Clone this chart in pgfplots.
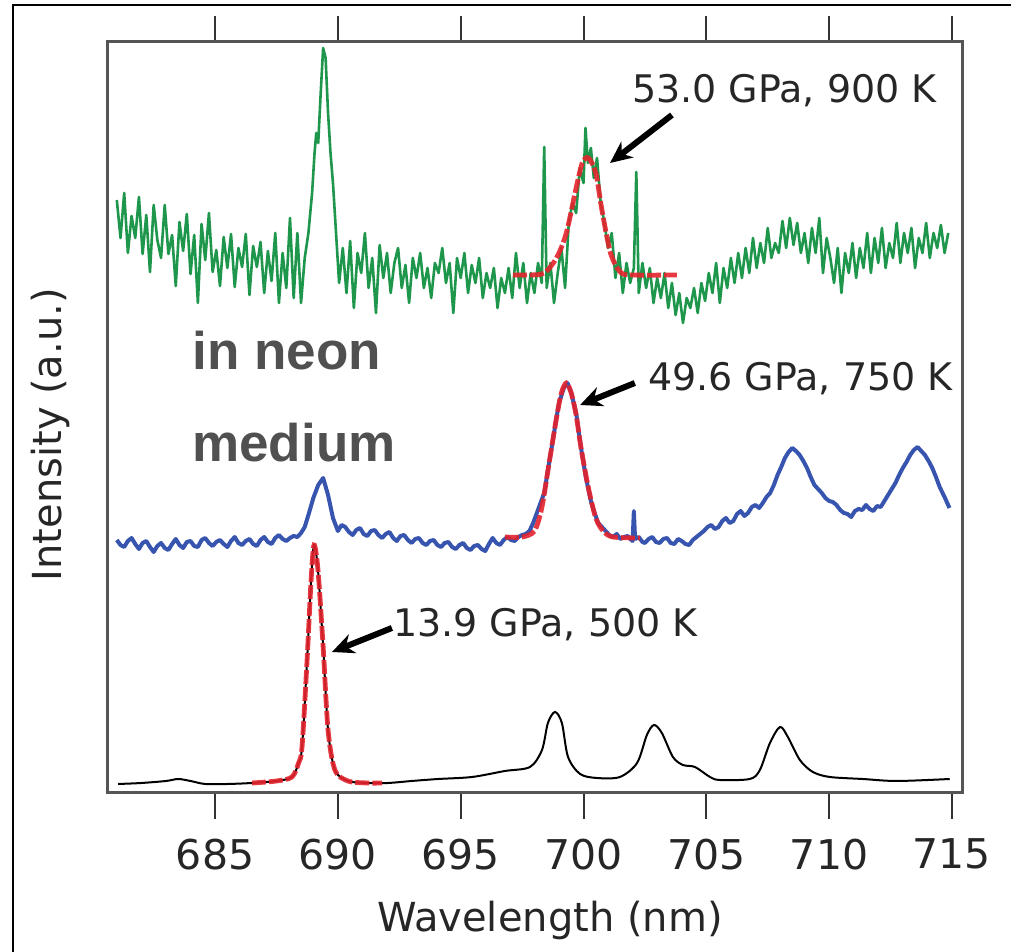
\documentclass[border=0pt]{standalone}
\usepackage{pgfplots}
\pgfplotsset{compat=1.18}
\usepackage{fontspec}
\setmainfont{DejaVu Sans}
\newfontfamily\arialbold{Liberation Sans}[BoldFont={* Bold}]
\usetikzlibrary{arrows.meta}
\definecolor{sgreen}{RGB}{30,150,75}
\definecolor{sblue}{RGB}{55,85,175}
\definecolor{sred}{RGB}{228,35,45}
\definecolor{sgray}{RGB}{80,80,80}
\definecolor{boxgray}{RGB}{85,85,85}
\begin{document}
\begin{tikzpicture}
\path[use as bounding box] (0,0) rectangle (505.5pt,476pt);
\draw[line width=0.9pt, black] (6.65pt,-2pt) -- (6.65pt,473.5pt) -- (510pt,473.5pt);
\begin{axis}[
  at={(53.5pt,79.5pt)}, anchor=south west,
  scale only axis, width=427.5pt, height=375.5pt,
  xmin=680.6, xmax=715.41, ymin=0, ymax=751,
  clip=false,
  axis line style={boxgray, line width=1.5pt},
  xtick={685,690,695,700,705,710,715},
  xtick pos=both, xticklabel pos=lower,
  ytick=\empty,
  tick align=outside,
  major tick length=13pt,
  every tick/.style={black!80, line width=1pt},
  /pgf/number format/assume math mode=true,
  xticklabel style={font=\fontsize{20.5pt}{24pt}\selectfont, text=black!85, yshift=-6.5pt},
  xlabel={Wavelength (nm)},
  ylabel={Intensity (a.u.)},
  xlabel style={font=\fontsize{20pt}{24pt}\selectfont, text=black!85, at={(axis description cs:0.518,-0.185)}, anchor=base},
  ylabel style={font=\fontsize{20pt}{24pt}\selectfont, text=black!85, at={(axis description cs:-0.0667,0.477)}, anchor=center},
]
% black spectrum 13.9 GPa
\addplot[black, line width=1pt, smooth, tension=0.5] coordinates {
(681.05,9) (682.0,10) (683.0,12) (683.5,14) (684.0,12) (684.6,9) (685.5,9) (686.5,10) (687.5,12) (688.13,16) (688.4,30) (688.54,46) (688.74,130) (688.91,213) (689.03,248) (689.19,223) (689.40,146) (689.60,63) (689.88,23) (690.41,12) (691.2,10) (692.04,10) (693.0,12) (694.08,14) (695.46,16) (696.80,22) (697.82,26) (698.31,43) (698.55,70) (698.84,81) (699.12,70) (699.37,36) (699.86,19) (700.55,15) (701.48,16) (702.18,30) (702.58,58) (702.87,68) (703.19,60) (703.64,36) (704.05,28) (704.54,26) (705.15,16) (705.55,13) (706.77,14) (707.18,23) (707.59,50) (708.00,66) (708.32,56) (708.81,33) (709.34,21) (710.03,16) (711.37,14) (712.76,12) (714.91,14)
};
% red fit on black
\addplot[sred, line width=2.4pt, smooth, tension=0.5, dash pattern=on 7pt off 1.5pt, opacity=0.9] coordinates {
(686.5,10) (687.5,12) (688.13,16) (688.4,30) (688.54,46) (688.74,130) (688.91,213) (689.03,248) (689.19,223) (689.40,146) (689.60,63) (689.88,23) (690.41,12) (691.2,10) (691.8,10)
};
% blue spectrum 49.6 GPa
\addplot[sblue, line width=2pt, line join=round] coordinates {
(681.0,253) (681.15,248) (681.3,246) (681.45,252) (681.6,255) (681.75,249) (681.9,244) (682.05,250) (682.2,252) (682.35,246) (682.5,241) (682.65,247) (682.8,250) (682.95,245) (683.1,243) (683.25,249) (683.4,254) (683.55,248) (683.7,245) (683.85,251) (684.0,252) (684.15,247) (684.3,246) (684.45,253) (684.6,255) (684.75,250) (684.9,247) (685.05,251) (685.2,253) (685.35,249) (685.5,246) (685.65,252) (685.8,256) (685.95,250) (686.1,248) (686.25,252) (686.4,254) (686.55,249) (686.7,247) (686.85,253) (687.0,256) (687.15,251) (687.3,249) (687.45,255) (687.6,258) (687.75,254) (687.9,252) (688.05,255) (688.2,257) (688.35,256) (688.5,260) (688.65,266) (688.8,278) (689.0,295) (689.2,308) (689.4,315) (689.6,298) (689.8,275) (690.0,262) (690.15,268) (690.3,266) (690.45,261) (690.6,258) (690.75,263) (690.9,265) (691.05,259) (691.2,257) (691.35,262) (691.5,263) (691.65,258) (691.8,255) (691.95,259) (692.1,261) (692.25,255) (692.4,252) (692.55,257) (692.7,258) (692.85,253) (693.0,250) (693.15,254) (693.3,255) (693.45,250) (693.6,248) (693.75,252) (693.9,253) (694.05,248) (694.2,246) (694.35,250) (694.5,251) (694.65,246) (694.8,244) (694.95,248) (695.1,250) (695.25,245) (695.4,243) (695.55,247) (695.7,248) (695.85,244) (696.0,242) (696.15,249) (696.3,255) (696.45,250) (696.6,248) (696.75,253) (696.9,256) (697.05,253) (697.2,252) (697.35,256) (697.5,258) (697.65,259) (697.8,262) (697.95,270) (698.1,280) (698.25,290) (698.4,300) (698.6,330) (698.8,360) (699.0,390) (699.2,405) (699.35,410) (699.5,400) (699.7,380) (699.9,345) (700.1,315) (700.3,292) (700.45,280) (700.6,270) (700.75,266) (700.9,262) (701.05,258) (701.2,256) (701.35,259) (701.5,254) (701.65,256) (701.8,257) (701.95,253) (702.0,252) (702.05,282) (702.1,254) (702.25,256) (702.4,251) (702.5,250) (702.65,254) (702.8,256) (702.95,251) (703.1,250) (703.25,254) (703.4,255) (703.55,250) (703.7,249) (703.85,254) (704.0,252) (704.15,249) (704.3,248) (704.45,253) (704.6,256) (704.75,259) (704.9,262) (705.05,266) (705.2,268) (705.35,264) (705.5,266) (705.65,272) (705.8,275) (705.95,270) (706.1,272) (706.25,279) (706.4,282) (706.55,277) (706.7,280) (706.85,286) (707.0,288) (707.15,285) (707.3,290) (707.45,296) (707.6,300) (707.75,308) (707.9,318) (708.05,326) (708.2,335) (708.35,341) (708.5,345) (708.65,342) (708.8,338) (708.95,332) (709.1,325) (709.25,316) (709.4,308) (709.55,304) (709.7,300) (709.85,295) (710.0,292) (710.15,291) (710.3,288) (710.45,283) (710.6,280) (710.75,279) (710.9,276) (711.05,282) (711.2,284) (711.35,283) (711.5,288) (711.65,284) (711.8,282) (711.95,287) (712.1,286) (712.25,292) (712.4,298) (712.55,304) (712.7,310) (712.85,318) (713.0,325) (713.15,331) (713.3,338) (713.45,343) (713.6,346) (713.75,342) (713.9,338) (714.05,332) (714.2,325) (714.35,316) (714.5,306) (714.7,296) (714.9,285)
};
% red fit on blue
\addplot[sred, line width=2.4pt, smooth, tension=0.5, dash pattern=on 7pt off 1.5pt, opacity=0.9] coordinates {
(696.8,256) (697.5,256) (698.0,262) (698.3,285) (698.6,330) (698.9,375) (699.1,400) (699.3,410) (699.5,400) (699.7,378) (699.9,345) (700.2,305) (700.5,275) (700.8,262) (701.2,256) (702.3,255)
};
% green spectrum 53.0 GPa
\addplot[sgreen, line width=1.3pt, line join=round] coordinates {
(681.00,593) (681.15,555) (681.30,600) (681.45,540) (681.60,577) (681.75,555) (681.90,596) (682.05,539) (682.20,578) (682.35,521) (682.50,588) (682.65,553) (682.80,535) (682.95,588) (683.10,539) (683.25,558) (683.40,507) (683.55,571) (683.70,542) (683.85,579) (684.00,519) (684.15,558) (684.30,490) (684.45,569) (684.60,533) (684.75,580) (684.90,521) (685.05,543) (685.20,507) (685.35,556) (685.50,525) (685.65,559) (685.80,506) (685.95,545) (686.10,526) (686.25,559) (686.40,498) (686.55,547) (686.70,526) (686.85,551) (687.00,500) (687.15,542) (687.30,512) (687.45,560) (687.60,490) (687.75,540) (687.90,505) (688.05,575) (688.20,495) (688.35,560) (688.50,490) (688.65,535) (688.80,560) (688.95,600) (689.05,640) (689.12,660) (689.20,650) (689.30,700) (689.40,745) (689.50,735) (689.60,680) (689.70,640) (689.80,610) (689.90,570) (690.05,510) (690.20,545) (690.35,500) (690.50,552) (690.65,485) (690.80,540) (690.95,520) (691.10,560) (691.25,505) (691.40,535) (691.55,480) (691.70,548) (691.85,515) (692.00,540) (692.15,500) (692.30,530) (692.45,545) (692.60,505) (692.75,528) (692.90,490) (693.05,535) (693.20,515) (693.35,540) (693.50,505) (693.65,525) (693.80,495) (693.95,530) (694.10,520) (694.25,545) (694.40,510) (694.55,530) (694.70,480) (694.85,535) (695.00,515) (695.15,540) (695.30,500) (695.45,528) (695.60,510) (695.75,535) (695.90,495) (696.05,520) (696.20,505) (696.35,525) (696.50,485) (696.65,515) (696.80,500) (696.95,525) (697.10,495) (697.25,540) (697.40,505) (697.55,530) (697.70,490) (697.85,520) (698.00,500) (698.15,530) (698.30,510) (698.40,646) (698.50,505) (698.65,530) (698.80,490) (698.95,520) (699.10,545) (699.25,505) (699.40,570) (699.55,590) (699.70,580) (699.85,625) (700.00,610) (700.08,665) (700.18,630) (700.30,645) (700.42,615) (700.55,635) (700.70,590) (700.85,570) (701.00,545) (701.15,560) (701.30,515) (701.45,540) (701.60,500) (701.75,530) (701.90,510) (702.05,525) (702.15,621) (702.25,500) (702.40,530) (702.55,505) (702.70,525) (702.85,490) (703.00,515) (703.15,495) (703.30,520) (703.45,485) (703.60,510) (703.75,478) (703.90,500) (704.05,470) (704.20,495) (704.35,485) (704.50,505) (704.65,480) (704.80,510) (704.95,492) (705.10,520) (705.25,500) (705.40,530) (705.55,490) (705.70,525) (705.85,505) (706.00,535) (706.15,510) (706.30,540) (706.45,515) (706.60,545) (706.75,520) (706.90,555) (707.05,525) (707.20,550) (707.35,530) (707.50,565) (707.65,535) (707.80,550) (707.95,540) (708.10,572) (708.25,545) (708.40,575) (708.55,548) (708.70,570) (708.85,540) (709.00,560) (709.15,530) (709.30,565) (709.45,540) (709.60,575) (709.75,520) (709.90,555) (710.05,535) (710.20,510) (710.35,545) (710.50,500) (710.65,540) (710.80,520) (710.95,550) (711.10,515) (711.25,545) (711.40,525) (711.55,560) (711.70,520) (711.85,555) (712.00,530) (712.15,565) (712.30,525) (712.45,550) (712.60,535) (712.75,570) (712.90,530) (713.05,560) (713.20,540) (713.35,565) (713.50,525) (713.65,555) (713.80,540) (713.95,570) (714.10,535) (714.25,560) (714.40,545) (714.55,568) (714.70,540) (714.85,560)
};
% red fit on green
\addplot[sred, line width=2.4pt, smooth, tension=0.5, dash pattern=on 7pt off 1.5pt, opacity=0.9] coordinates {
(697.13,518) (697.8,518) (698.4,520) (698.9,535) (699.3,560) (699.7,605) (699.95,630) (700.2,635) (700.5,620) (700.75,583) (701.1,540) (701.5,521) (702.0,518) (703.8,518)
};
% annotations
\node[anchor=base west, inner sep=0pt, font=\fontsize{19pt}{23pt}\selectfont, text=black!85] at (axis cs:701.97,690) {53.0 GPa, 900 K};
\node[anchor=base west, inner sep=0pt, font=\fontsize{19pt}{23pt}\selectfont, text=black!85] at (axis cs:702.62,402) {49.6 GPa, 750 K};
\node[anchor=base west, inner sep=0pt, font=\fontsize{19pt}{23pt}\selectfont, text=black!85] at (axis cs:692.24,156) {13.9 GPa, 500 K};
\draw[line width=3pt, -{Stealth[length=11pt,width=10pt]}] (axis cs:703.6,678) -- (axis cs:701.08,630);
\draw[line width=3pt, -{Stealth[length=11pt,width=10pt]}] (axis cs:702.09,410) -- (axis cs:699.86,388);
\draw[line width=3pt, -{Stealth[length=11pt,width=10pt]}] (axis cs:692.2,165) -- (axis cs:689.76,141);
\node[anchor=base west, inner sep=0pt, font=\arialbold\bfseries\fontsize{26.5pt}{30pt}\selectfont, text=sgray] at (axis cs:684.06,423) {in neon};
\node[anchor=base west, inner sep=0pt, font=\arialbold\bfseries\fontsize{26.5pt}{30pt}\selectfont, text=sgray] at (axis cs:684.06,331) {medium};
\end{axis}
\end{tikzpicture}
\end{document}
